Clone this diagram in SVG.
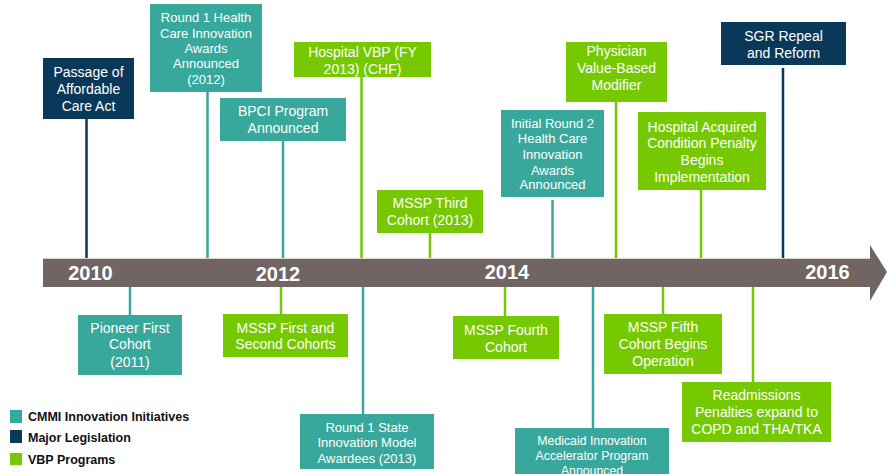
<svg xmlns="http://www.w3.org/2000/svg" width="887" height="474" viewBox="0 0 887 474">
<style>
.teal{fill:#38A89D}
.navy{fill:#0A3858}
.green{fill:#76C900}
.lt{stroke:#38A89D}
.ln{stroke:#0A3858}
.lg{stroke:#76C900}
#connectors line{stroke-width:2.5}
.t{font-family:"Liberation Sans",Arial,sans-serif;fill:#FFFFFF;text-anchor:middle;font-size:14px}
.s13{font-size:13px}
.s12{font-size:12.3px}
.yr{font-family:"Liberation Sans",Arial,sans-serif;fill:#FFFFFF;font-weight:bold;font-size:20px;text-anchor:middle}
.lgd{font-family:"Liberation Sans",Arial,sans-serif;fill:#111111;font-weight:bold;font-size:12.5px}
</style>
<rect width="887" height="474" fill="#FFFFFF"/>
<g id="connectors">
<line class="ln" x1="86.5" y1="119" x2="86.5" y2="258"/>
<line class="lt" x1="207.5" y1="92" x2="207.5" y2="258"/>
<line class="lt" x1="283" y1="141" x2="283" y2="258"/>
<line class="lg" x1="361.5" y1="77" x2="361.5" y2="258"/>
<line class="lg" x1="430" y1="233" x2="430" y2="258"/>
<line class="lt" x1="552.5" y1="200" x2="552.5" y2="258"/>
<line class="lg" x1="616" y1="102" x2="616" y2="258"/>
<line class="lg" x1="701" y1="190" x2="701" y2="258"/>
<line class="ln" x1="783" y1="68" x2="783" y2="258"/>
<line class="lt" x1="130" y1="287" x2="130" y2="315"/>
<line class="lg" x1="281" y1="287" x2="281" y2="314"/>
<line class="lt" x1="363" y1="287" x2="363" y2="414"/>
<line class="lg" x1="505" y1="287" x2="505" y2="316"/>
<line class="lt" x1="593" y1="287" x2="593" y2="428"/>
<line class="lg" x1="663" y1="287" x2="663" y2="314"/>
<line class="lg" x1="753" y1="287" x2="753" y2="382"/>
</g>
<g id="timeline">
<path d="M43,258 H870 V245 L887,272 L870,301 V287 H43 Z" fill="#716563"/>
<line x1="43" y1="258.5" x2="870" y2="258.5" stroke="#D9D4D3" stroke-width="1"/>
<text class="yr" x="90.5" y="280">2010</text>
<text class="yr" x="278" y="281">2012</text>
<text class="yr" x="507" y="279">2014</text>
<text class="yr" x="827.5" y="279">2016</text>
</g>
<g id="n1">
<rect class="navy" x="43" y="58" width="91" height="61"/>
<text class="t"><tspan x="88.5" y="77">Passage of</tspan><tspan x="88.5" y="94">Affordable</tspan><tspan x="88.5" y="111">Care Act</tspan></text>
</g>
<g id="n2">
<rect class="teal" x="150" y="4" width="112" height="88"/>
<text class="t s13"><tspan x="206" y="22">Round 1 Health</tspan><tspan x="206" y="38">Care Innovation</tspan><tspan x="206" y="53">Awards</tspan><tspan x="206" y="68">Announced</tspan><tspan x="206" y="84">(2012)</tspan></text>
</g>
<g id="n3">
<rect class="teal" x="220" y="98" width="126" height="43"/>
<text class="t"><tspan x="283" y="116">BPCI Program</tspan><tspan x="283" y="133">Announced</tspan></text>
</g>
<g id="n4">
<rect class="green" x="294" y="42" width="137" height="35"/>
<text class="t"><tspan x="362.5" y="57">Hospital VBP (FY</tspan><tspan x="362.5" y="74">2013) (CHF)</tspan></text>
</g>
<g id="n5">
<rect class="green" x="377" y="190" width="106" height="43"/>
<text class="t"><tspan x="430" y="208">MSSP Third</tspan><tspan x="430" y="225">Cohort (2013)</tspan></text>
</g>
<g id="n6">
<rect class="teal" x="501" y="110" width="103" height="87"/>
<text class="t s13"><tspan x="552.5" y="128">Initial Round 2</tspan><tspan x="552.5" y="143">Health Care</tspan><tspan x="552.5" y="159">Innovation</tspan><tspan x="552.5" y="175">Awards</tspan><tspan x="552.5" y="189">Announced</tspan></text>
</g>
<g id="n7">
<rect class="green" x="566" y="42" width="101" height="60"/>
<text class="t"><tspan x="616.5" y="56">Physician</tspan><tspan x="616.5" y="73">Value-Based</tspan><tspan x="616.5" y="90">Modifier</tspan></text>
</g>
<g id="n8">
<rect class="green" x="638" y="112" width="128" height="78"/>
<text class="t"><tspan x="702" y="132">Hospital Acquired</tspan><tspan x="702" y="148">Condition Penalty</tspan><tspan x="702" y="165">Begins</tspan><tspan x="702" y="182">Implementation</tspan></text>
</g>
<g id="n9">
<rect class="navy" x="721" y="22" width="125" height="43"/>
<text class="t"><tspan x="783.5" y="41">SGR Repeal</tspan><tspan x="783.5" y="58">and Reform</tspan></text>
</g>
<g id="n10">
<rect class="teal" x="78" y="315" width="104" height="60"/>
<text class="t"><tspan x="130" y="333">Pioneer First</tspan><tspan x="130" y="349">Cohort</tspan><tspan x="130" y="367">(2011)</tspan></text>
</g>
<g id="n11">
<rect class="green" x="223" y="314" width="125" height="43"/>
<text class="t"><tspan x="285.5" y="333">MSSP First and</tspan><tspan x="285.5" y="349">Second Cohorts</tspan></text>
</g>
<g id="n12">
<rect class="teal" x="300" y="414" width="134" height="55"/>
<text class="t s13"><tspan x="367" y="432">Round 1 State</tspan><tspan x="367" y="447">Innovation Model</tspan><tspan x="367" y="463">Awardees (2013)</tspan></text>
</g>
<g id="n13">
<rect class="green" x="453" y="316" width="106" height="43"/>
<text class="t"><tspan x="506" y="335">MSSP Fourth</tspan><tspan x="506" y="352">Cohort</tspan></text>
</g>
<g id="n14">
<rect class="teal" x="515" y="428" width="154" height="50"/>
<text class="t s12"><tspan x="592" y="445">Medicaid Innovation</tspan><tspan x="592" y="460">Accelerator Program</tspan><tspan x="592" y="475">Announced</tspan></text>
</g>
<g id="n15">
<rect class="green" x="604" y="314" width="118" height="60"/>
<text class="t"><tspan x="663" y="332">MSSP Fifth</tspan><tspan x="663" y="349">Cohort Begins</tspan><tspan x="663" y="366">Operation</tspan></text>
</g>
<g id="n16">
<rect class="green" x="682" y="382" width="149" height="60"/>
<text class="t"><tspan x="756.5" y="400">Readmissions</tspan><tspan x="756.5" y="417">Penalties expand to</tspan><tspan x="756.5" y="434">COPD and THA/TKA</tspan></text>
</g>
<g id="legend">
<rect class="teal" x="10" y="410" width="12" height="13"/>
<text class="lgd" x="28" y="421">CMMI Innovation Initiatives</text>
<rect class="navy" x="10" y="430" width="12" height="13"/>
<text class="lgd" x="28" y="442">Major Legislation</text>
<rect class="green" x="10" y="453" width="12" height="12"/>
<text class="lgd" x="28" y="464">VBP Programs</text>
</g>
</svg>
